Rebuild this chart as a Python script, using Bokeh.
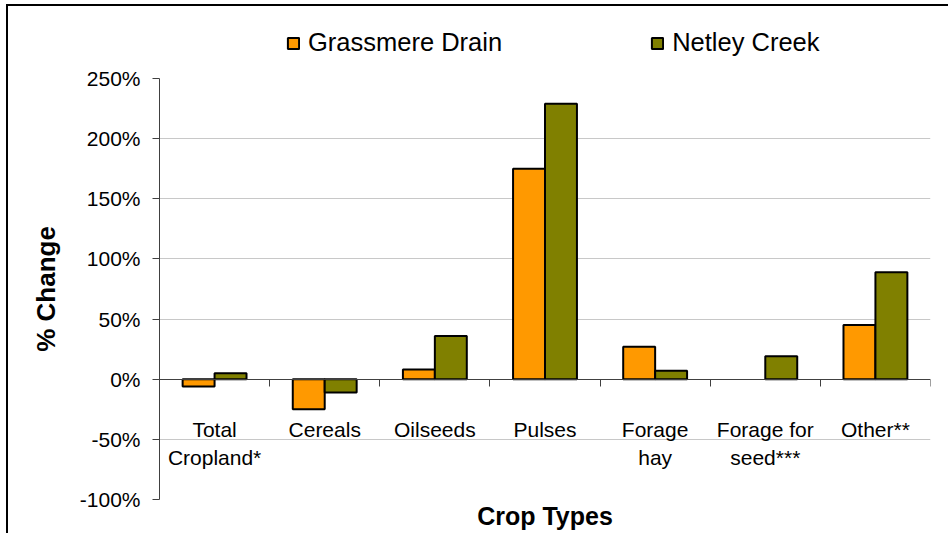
import numpy as np
from bokeh.plotting import figure
from bokeh.layouts import column
from bokeh.models import (ColumnDataSource, Range1d, LinearAxis, FixedTicker, Legend,
                          LegendItem, Title, PrintfTickFormatter)
from bokeh.transform import dodge
from bokeh.embed import file_html
from bokeh.resources import INLINE

# Change in crop area by crop type, per watershed (%)
categories = ["Total\nCropland*", "Cereals", "Oilseeds", "Pulses",
              "Forage\nhay", "Forage for\nseed***", "Other**"]
series_names = ["Grassmere Drain", "Netley Creek"]
grassmere_drain = [-6, -25, 8, 175, 27, None, 45]
netley_creek = [5, -11, 36, 229, 7, 19, 89]
y_ticks = [-100, -50, 0, 50, 100, 150, 200, 250]

FONT = "Liberation Sans"
ORANGE = "#FF9900"
OLIVE = "#808000"
AXIS = "#404040"
W = 940
BW = 0.29

n = len(categories)
centers = [i + 0.5 for i in range(n)]
src = ColumnDataSource(dict(
    x=centers,
    g=[np.nan if v is None else v for v in grassmere_drain],
    nc=netley_creek,
))


def add_bars(fig, visible=True):
    g = fig.vbar(x=dodge("x", -BW / 2, range=fig.x_range), top="g", bottom=0, width=BW,
                 source=src, fill_color=ORANGE, line_color="black", line_width=2,
                 visible=visible)
    nc = fig.vbar(x=dodge("x", BW / 2, range=fig.x_range), top="nc", bottom=0, width=BW,
                  source=src, fill_color=OLIVE, line_color="black", line_width=2,
                  visible=visible)
    return g, nc


# ---- main chart ----
p = figure(width=W, height=473,
           x_range=Range1d(0, n), y_range=Range1d(-100, 250),
           output_backend="svg", toolbar_location=None, x_axis_location=None,
           min_border_left=151, min_border_right=18,
           min_border_top=18, min_border_bottom=34)
p.outline_line_color = None
p.background_fill_color = "white"
p.border_fill_color = "white"

p.xgrid.visible = False
p.ygrid.ticker = FixedTicker(ticks=y_ticks)
p.ygrid.grid_line_color = "#c8c8c8"
p.ygrid.grid_line_width = 1

add_bars(p)

# value axis
yax = p.yaxis[0]
yax.ticker = FixedTicker(ticks=y_ticks)
yax.formatter = PrintfTickFormatter(format="%d%%")
yax.major_label_text_font = FONT
yax.major_label_text_font_size = "21px"
yax.major_label_text_color = "black"
yax.major_tick_out = 7
yax.major_tick_in = 0
yax.minor_tick_out = 0
yax.minor_tick_in = 0
yax.major_tick_line_color = AXIS
yax.axis_line_color = AXIS
yax.major_label_standoff = 12
yax.axis_label = "% Change"
yax.axis_label_text_font = FONT
yax.axis_label_text_font_size = "26px"
yax.axis_label_text_font_style = "bold"
yax.axis_label_text_color = "black"
yax.axis_label_standoff = 16

# category axis sitting on the zero line, ticks between categories
xax = LinearAxis(fixed_location=0,
                 ticker=FixedTicker(ticks=centers, minor_ticks=list(range(n + 1))),
                 major_label_overrides={c: lab for c, lab in zip(centers, categories)})
xax.major_label_text_font = FONT
xax.major_label_text_font_size = "21px"
xax.major_label_text_color = "black"
xax.major_label_standoff = 32
xax.major_tick_out = 0
xax.major_tick_in = 0
xax.minor_tick_out = 7
xax.minor_tick_in = 0
xax.minor_tick_line_color = AXIS
xax.axis_line_color = AXIS
p.add_layout(xax, "below")

p.add_layout(Title(text="Crop Types", align="center", offset=-3, standoff=0,
                   text_font=FONT, text_font_size="25px", text_font_style="bold",
                   text_color="black"), "below")

# ---- legend strip above the chart (hidden key renderers) ----
lg = figure(width=W, height=54, x_range=Range1d(0, n), y_range=Range1d(-100, 250),
            output_backend="svg", toolbar_location=None,
            x_axis_location=None, y_axis_location=None,
            min_border_left=0, min_border_right=0, min_border_top=0, min_border_bottom=0)
lg.grid.visible = False
lg.outline_line_color = None
lg.border_fill_color = "white"
key_g, key_n = add_bars(lg, visible=False)

legend = Legend(items=[LegendItem(label=series_names[0], renderers=[key_g]),
                       LegendItem(label=series_names[1], renderers=[key_n])],
                location=(127, 3), orientation="horizontal", spacing=148,
                glyph_width=14, glyph_height=14, label_standoff=8,
                padding=0, margin=0, border_line_color=None,
                background_fill_alpha=0,
                label_text_font=FONT, label_text_font_size="25.5px",
                label_text_color="black")
lg.add_layout(legend)

layout = column(lg, p, spacing=0)
layout.styles = {"border-left": "2px solid black", "border-top": "2px solid black",
                 "margin-left": "6px", "margin-top": "4px"}

open("out.html", "w").write(file_html(layout, INLINE))
